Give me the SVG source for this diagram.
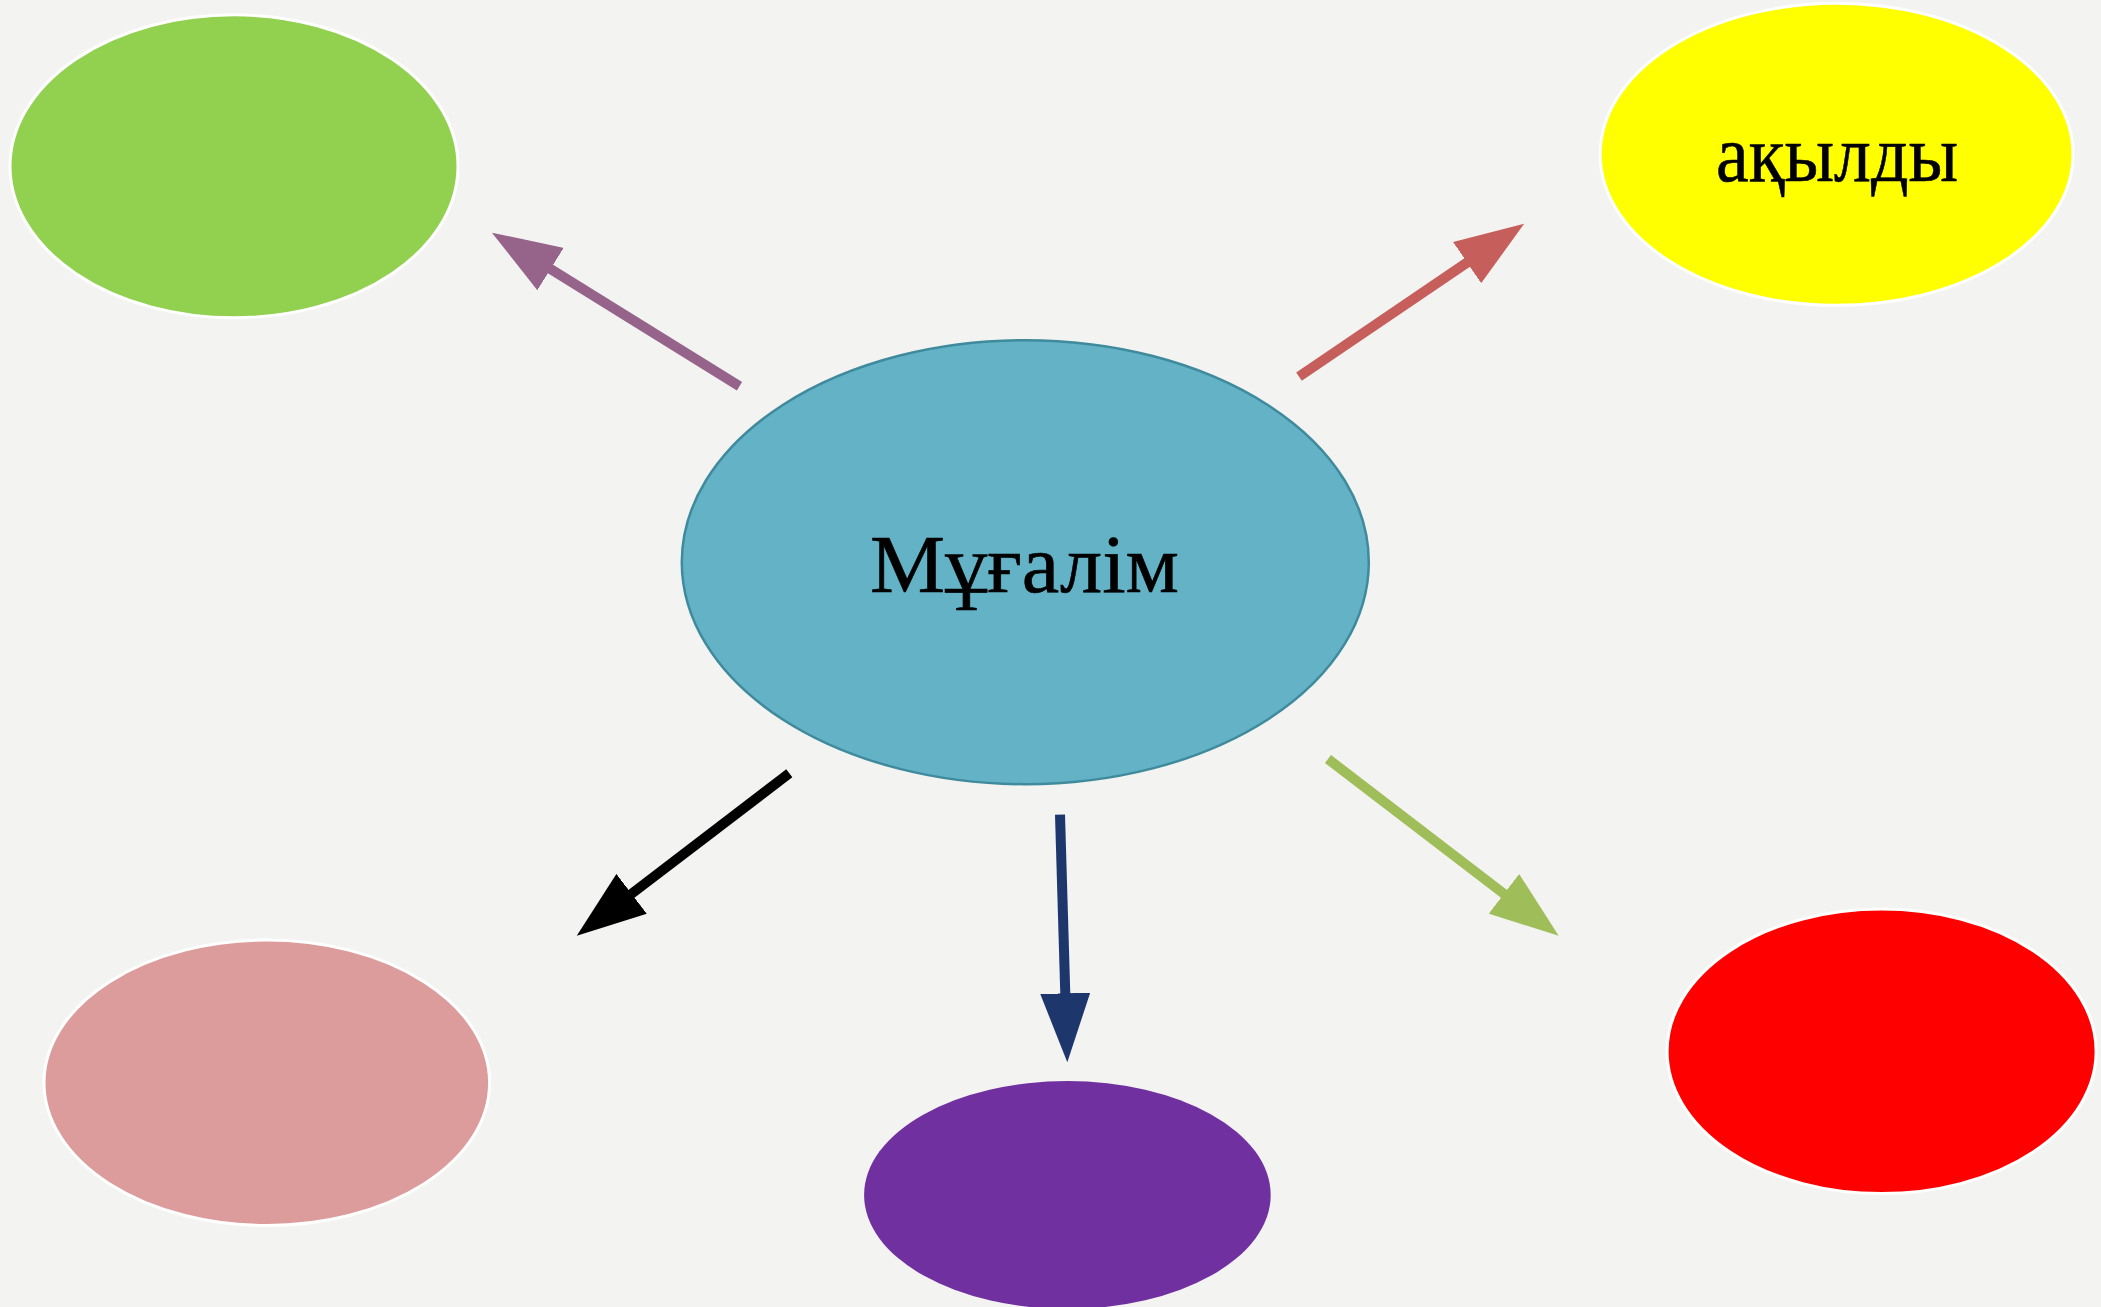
<svg xmlns="http://www.w3.org/2000/svg" width="2101" height="1307" viewBox="0 0 2101 1307">
  <style>
    .node { stroke: #ffffff; stroke-width: 3; }
    .lbl { font-family: "Liberation Serif", "Times New Roman", serif; fill: #000000; text-anchor: middle; stroke: #000000; stroke-width: 0.6; }
    .conn { fill: none; stroke-width: 10; stroke-linecap: butt; }
  </style>
  <defs>
    <marker id="ah-purple" markerUnits="userSpaceOnUse" markerWidth="70" markerHeight="50" refX="1" refY="25" orient="auto" viewBox="0 0 70 50">
      <path d="M0,0 L69,25 L0,50 z" fill="#96638b"/>
    </marker>
    <marker id="ah-red" markerUnits="userSpaceOnUse" markerWidth="70" markerHeight="50" refX="1" refY="25" orient="auto" viewBox="0 0 70 50">
      <path d="M0,0 L69,25 L0,50 z" fill="#c65f5b"/>
    </marker>
    <marker id="ah-black" markerUnits="userSpaceOnUse" markerWidth="70" markerHeight="50" refX="1" refY="25" orient="auto" viewBox="0 0 70 50">
      <path d="M0,0 L69,25 L0,50 z" fill="#000000"/>
    </marker>
    <marker id="ah-navy" markerUnits="userSpaceOnUse" markerWidth="70" markerHeight="50" refX="1" refY="25" orient="auto" viewBox="0 0 70 50">
      <path d="M0,0 L69,25 L0,50 z" fill="#1d376c"/>
    </marker>
    <marker id="ah-green" markerUnits="userSpaceOnUse" markerWidth="70" markerHeight="50" refX="1" refY="25" orient="auto" viewBox="0 0 70 50">
      <path d="M0,0 L69,25 L0,50 z" fill="#9fbd59"/>
    </marker>
  </defs>

  <rect x="0" y="0" width="2101" height="1307" fill="#f3f3f1"/>

  <g id="connectors">
    <line class="conn" x1="739.5" y1="386.3" x2="549.7" y2="268.5" stroke="#96638b" marker-end="url(#ah-purple)"/>
    <line class="conn" x1="1299" y1="376.7" x2="1467.9" y2="262" stroke="#c65f5b" marker-end="url(#ah-red)"/>
    <line class="conn" x1="789.3" y1="773.3" x2="630.8" y2="894.4" stroke="#000000" marker-end="url(#ah-black)"/>
    <line class="conn" x1="1060" y1="814.7" x2="1065.3" y2="994.3" stroke="#1d376c" marker-end="url(#ah-navy)"/>
    <line class="conn" x1="1328" y1="759" x2="1504.7" y2="894.4" stroke="#9fbd59" marker-end="url(#ah-green)"/>
  </g>

  <g id="node-center">
    <ellipse cx="1025.3" cy="562.2" rx="343.5" ry="222" fill="#63b2c6" stroke="#3f8a9c" stroke-width="2.5"/>
    <text class="lbl" x="1024.5" y="591.7" font-size="83" textLength="309" lengthAdjust="spacingAndGlyphs">Мұғалім</text>
  </g>

  <g id="node-green">
    <ellipse class="node" cx="234" cy="166.3" rx="224" ry="151.5" fill="#92d050"/>
  </g>

  <g id="node-yellow">
    <ellipse class="node" cx="1836.6" cy="154.3" rx="236.4" ry="151" fill="#ffff00"/>
    <text class="lbl" x="1837" y="181" font-size="80" textLength="242" lengthAdjust="spacingAndGlyphs">ақылды</text>
  </g>

  <g id="node-pink">
    <ellipse class="node" cx="266.8" cy="1082.8" rx="222.8" ry="142.7" fill="#dd9c9c"/>
  </g>

  <g id="node-purple">
    <ellipse cx="1067.4" cy="1195" rx="203.3" ry="114" fill="#7030a0"/>
  </g>

  <g id="node-red">
    <ellipse class="node" cx="1881.6" cy="1051.3" rx="214.5" ry="142.3" fill="#ff0000"/>
  </g>
</svg>
